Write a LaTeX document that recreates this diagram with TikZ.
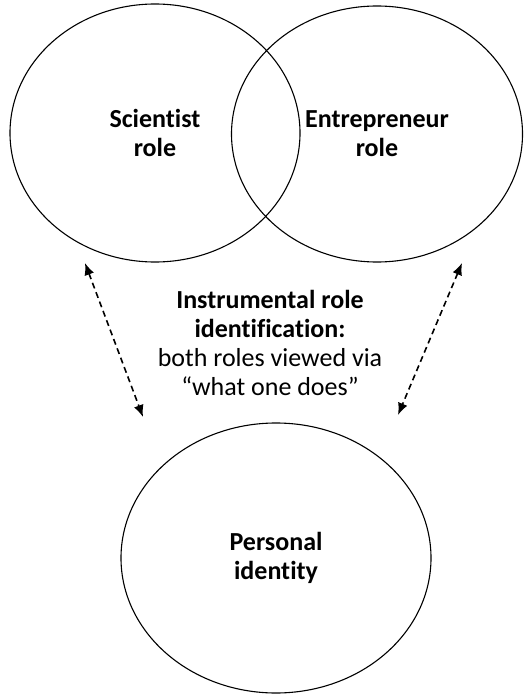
\documentclass[tikz,border=0pt]{standalone}
\usepackage{fontspec}
\setmainfont{Carlito}[Ligatures=NoCommon]
\usetikzlibrary{arrows.meta,shapes.geometric}
\begin{document}
\begin{tikzpicture}[x=0.5pt,y=-0.5pt,
    role/.style={draw,ellipse,line width=0.55pt,inner sep=0pt,align=center,
      font=\fontsize{13}{14.5}\selectfont\bfseries},
    link/.style={line width=0.8pt,dash pattern=on 3pt off 2pt,
      {Latex[length=6pt,width=5pt]}-{Latex[length=6pt,width=5pt]}}]
      \useasboundingbox (0,0) rectangle (530,695);
      \draw
        (155,133) node[role,minimum width=145pt,minimum height=129pt] (sci){Scientist\\role}
        (377,134) node[role,minimum width=145.5pt,minimum height=128pt] (ent){Entrepreneur\\role}
        (276,558) node[role,minimum width=155pt,minimum height=135pt] (pers){Personal\\identity};
      \node[align=center,font=\fontsize{13}{14.5}\selectfont] (instr) at (270,343)
        {\textbf{Instrumental role}\\\textbf{identification:}\\both roles viewed via\\“what one does”};
      \coordinate (sciend) at (85,263);
      \coordinate (perleft) at (143,417);
      \coordinate (entend) at (462,263);
      \coordinate (perright) at (398,415);
      \begin{scope}[link]
        \draw (sciend) to (perleft);
        \draw (entend) to (perright);
      \end{scope}
    \end{tikzpicture}
\end{document}
